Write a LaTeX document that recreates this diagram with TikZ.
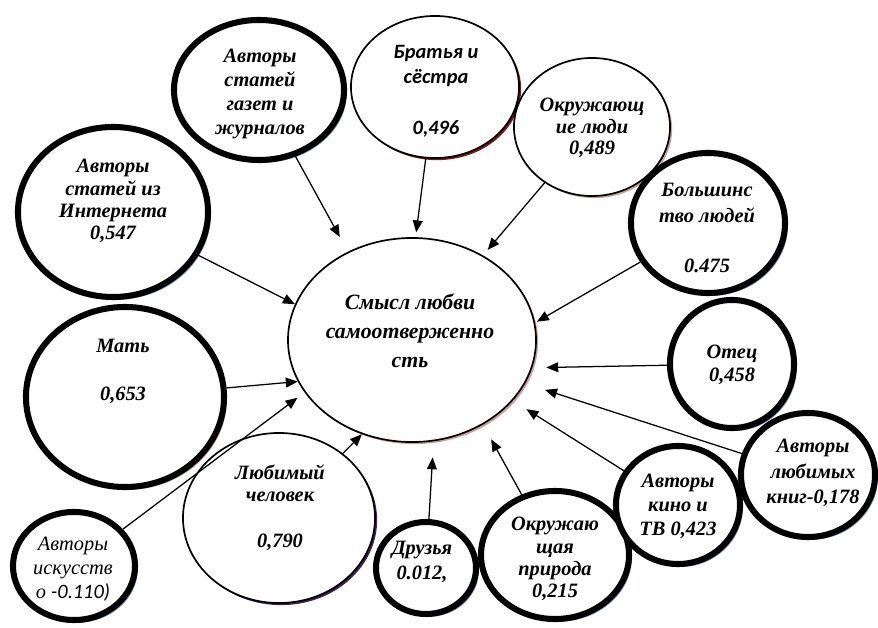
\documentclass[tikz,border=0pt]{standalone}
\usepackage{fontspec}
\setmainfont{Liberation Serif}
\newfontfamily\calfont{Carlito}
\usetikzlibrary{shapes.geometric,arrows.meta,shadows}
\definecolor{shblue}{RGB}{120,138,165}
\definecolor{shpink}{RGB}{200,160,160}
\definecolor{shred}{RGB}{120,25,25}
\definecolor{shplum}{RGB}{60,35,80}
\tikzset{
  bubble/.style={ellipse, draw, fill=white, inner sep=0pt},
  thickb/.style={bubble, line width=4.3pt, drop shadow={shadow xshift=2pt, shadow yshift=-2pt, fill=#1, opacity=1}},
  thickb/.default=shblue,
  thinb/.style={bubble, line width=1.2pt, drop shadow={shadow xshift=1.5pt, shadow yshift=-1.5pt, fill=#1, opacity=1}},
  thinb/.default=shpink,
  lbl/.style={align=center, font=\bfseries\itshape\fontsize{14.5}{17}\selectfont},
  arr/.style={-{Triangle[length=8.5pt,width=7pt]}, line width=0.9pt}
}
\begin{document}
\begin{tikzpicture}[x=0.025cm, y=-0.025cm]
	\useasboundingbox (0,0) rectangle (878,628);
	% bubbles
	\node[thinb, minimum width=6.2cm, minimum height=5.1cm] (main) at (412,340) {};
	\node[thickb, minimum width=4.25cm, minimum height=3.5cm] (gazety) at (259,90) {};
	\node[thinb=shred, minimum width=4.2cm, minimum height=3.55cm] (bratya) at (435,87) {};
	\node[thinb, minimum width=3.9cm, minimum height=3.45cm] (lyudi) at (592,127) {};
	\node[thickb, minimum width=3.85cm, minimum height=3.5cm] (bolsh) at (708,223) {};
	\node[thickb, minimum width=4.75cm, minimum height=4.25cm] (internet) at (113,212) {};
	\node[thickb=shpink, minimum width=4.95cm, minimum height=4.5cm] (mat) at (125,397) {};
	\node[thinb=shplum, minimum width=4.8cm, minimum height=4.25cm] (lyubimy) at (279,518) {};
	\node[thickb, minimum width=3.05cm, minimum height=2.7cm] (iskus) at (74,566) {};
	\node[thickb, minimum width=2.5cm, minimum height=2.3cm] (druzya) at (426,568) {};
	\node[thickb, minimum width=3.7cm, minimum height=3.2cm] (priroda) at (555,555) {};
	\node[thickb, minimum width=3.1cm, minimum height=2.95cm] (kino) at (678,505) {};
	\node[thickb, minimum width=3.35cm, minimum height=3.1cm] (knigi) at (808,475) {};
	\node[thickb, minimum width=3.1cm, minimum height=3.2cm] (otets) at (732,364) {};
	% texts
	\node[lbl, font=\bfseries\itshape\fontsize{15.5}{20.5}\selectfont] (mainT) at (410,331) {Смысл любви\\самоотверженно\\сть};
	\node[lbl] (gazetyT) at (260,94) {Авторы\\статей\\газет и\\журналов};
	\node[lbl, font=\calfont\bfseries\itshape\fontsize{14.5}{18}\selectfont] (bratyaT) at (436,91) {Братья и\\сёстра\\[18pt]0,496};
	\node[lbl, font=\bfseries\itshape\fontsize{14.5}{15.5}\selectfont] (lyudiT) at (592,128) {Окружающ\\ие люди\\0,489};
	\node[lbl, font=\bfseries\itshape\fontsize{14.5}{18.5}\selectfont] (bolshT) at (707,228) {Большинс\\тво людей\\[17pt]0.475};
	\node[lbl, font=\bfseries\itshape\fontsize{14.5}{15.8}\selectfont] (internetT) at (113,201) {Авторы\\статей из\\Интернета\\0,547};
	\node[lbl] (matT) at (123,371) {Мать\\[17pt]0,653};
	\node[lbl, font=\bfseries\itshape\fontsize{14.5}{15.8}\selectfont] (lyubimyT) at (280,508) {Любимый\\человек\\[17pt]0,790};
	\node[lbl, font=\itshape\fontsize{14.5}{17}\selectfont] (iskusT) at (73,569) {Авторы\\искусств\\о {\calfont -0.110)}};
	\node[lbl, font=\bfseries\itshape\fontsize{14.5}{18}\selectfont] (druzyaT) at (422,562) {Друзья\\0.012,};
	\node[lbl, font=\bfseries\itshape\fontsize{14.5}{15.8}\selectfont] (prirodaT) at (555,559) {Окружаю\\щая\\природа\\0,215};
	\node[lbl] (kinoT) at (678,506) {Авторы\\кино и\\ТВ 0,423};
	\node[lbl, font=\bfseries\itshape\fontsize{14.5}{18}\selectfont] (knigiT) at (813,473) {Авторы\\любимых\\книг-0,178};
	\node[lbl, font=\bfseries\itshape\fontsize{14.5}{16.5}\selectfont] (otetsT) at (732,365) {Отец\\0,458};
	% arrows
	\draw[arr, shorten >=0.42cm] (gazety) -- (main.126);
	\draw[arr, shorten >=0.12cm] (bratya) -- (main.88);
	\draw[arr, shorten >=0.18cm] (lyudi) -- (main.50);
	\draw[arr, shorten >=0.05cm] (bolsh) -- (main.8);
	\draw[arr] (internet) -- (main.163);
	\draw[arr] (mat) -- (main.200);
	\draw[arr, shorten >=0.22cm] (iskus) -- (main.206);
	\draw[arr] (lyubimy) -- (main.242);
	\draw[arr, shorten >=0.4cm] (druzya) -- (main.282);
	\draw[arr, shorten >=0.42cm] (priroda) -- (main.310);
	\draw[arr, shorten >=0.4cm] (kino) -- (main.329);
	\draw[arr, shorten >=0.52cm] (knigi) -- (main.339);
	\draw[arr, shorten >=0.35cm] (otets) -- (main.347);
\end{tikzpicture}
\end{document}
